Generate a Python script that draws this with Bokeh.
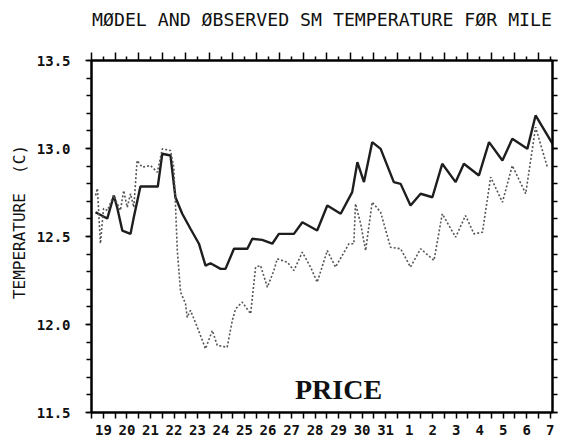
from bokeh.plotting import figure
from bokeh.models import LinearAxis, FixedTicker, Range1d, Label, NumeralTickFormatter
from bokeh.embed import file_html
from bokeh.resources import INLINE

# Day index 0 = Aug 19 ... 12 = Aug 31, 13 = Sep 1 ... 19 = Sep 7
day_labels = ["19", "20", "21", "22", "23", "24", "25", "26", "27", "28", "29",
              "30", "31", "1", "2", "3", "4", "5", "6", "7"]

# Model (solid) temperature, deg C
model_day = [-0.34, 0.16, 0.44, 0.58, 0.80, 1.15, 1.29, 1.57, 2.31, 2.50, 2.85,
             3.06, 3.35, 3.70, 4.06, 4.34, 4.55, 4.98, 5.19, 5.55, 6.12, 6.33,
             6.75, 7.18, 7.46, 8.10, 8.46, 9.09, 9.52, 10.09, 10.58, 10.80, 11.08,
             11.43, 11.79, 12.35, 12.64, 13.06, 13.49, 13.99, 14.41, 14.98, 15.33,
             15.97, 16.40, 16.97, 17.39, 18.03, 18.38, 19.02, 19.15]
model_temp = [12.638, 12.602, 12.733, 12.666, 12.534, 12.515, 12.610, 12.784, 12.784,
              12.970, 12.960, 12.723, 12.629, 12.544, 12.459, 12.335, 12.348, 12.316,
              12.316, 12.430, 12.430, 12.487, 12.481, 12.459, 12.515, 12.515, 12.581,
              12.534, 12.676, 12.629, 12.752, 12.922, 12.809, 13.036, 12.998, 12.809,
              12.799, 12.676, 12.743, 12.723, 12.913, 12.809, 12.913, 12.847, 13.036,
              12.932, 13.055, 12.998, 13.188, 13.045, 13.017]

# Observed (dotted) temperature, deg C
obs_day = [-0.34, -0.26, -0.13, 0.00, 0.17, 0.43, 0.72, 0.86, 1.01, 1.15, 1.29, 1.43,
           1.65, 2.00, 2.29, 2.50, 2.85, 2.99, 3.06, 3.14, 3.28, 3.49, 3.56, 3.70,
           3.99, 4.34, 4.63, 4.84, 5.26, 5.48, 5.62, 5.90, 6.26, 6.47, 6.68, 6.97,
           7.25, 7.39, 7.82, 8.10, 8.46, 8.81, 9.09, 9.52, 9.87, 10.44, 10.65, 10.72,
           10.94, 11.15, 11.43, 11.79, 12.21, 12.64, 13.06, 13.49, 14.06, 14.41,
           14.98, 15.40, 15.76, 16.12, 16.47, 16.97, 17.39, 17.96, 18.38, 18.88]
obs_temp = [12.733, 12.773, 12.460, 12.659, 12.648, 12.733, 12.648, 12.761, 12.666,
            12.743, 12.666, 12.932, 12.894, 12.903, 12.865, 12.998, 12.989, 12.894,
            12.688, 12.420, 12.184, 12.118, 12.041, 12.080, 11.985, 11.862, 11.966,
            11.881, 11.871, 12.023, 12.089, 12.127, 12.061, 12.326, 12.335, 12.212,
            12.307, 12.373, 12.354, 12.307, 12.411, 12.326, 12.240, 12.420, 12.326,
            12.459, 12.459, 12.686, 12.572, 12.420, 12.695, 12.638, 12.439, 12.430,
            12.326, 12.430, 12.364, 12.629, 12.496, 12.619, 12.515, 12.524, 12.837,
            12.695, 12.903, 12.743, 13.121, 12.894]

y_major = [11.5, 12.0, 12.5, 13.0, 13.5]
y_minor = [round(11.5 + 0.1 * i, 1) for i in range(21)]
x_major = list(range(len(day_labels)))
x_half = [i + 0.5 for i in range(-1, len(day_labels))]

TITLE = "MØDEL AND ØBSERVED SM TEMPERATURE FØR MILE"
MONO = "DejaVu Sans Mono"

p = figure(width=558, height=448, output_backend="svg", toolbar_location=None,
           x_range=Range1d(-0.51, 19.1), y_range=Range1d(11.5, 13.5),
           x_axis_type=None, y_axis_type=None, title=None,
           min_border_left=91, min_border_right=6, min_border_top=60, min_border_bottom=36)

p.outline_line_color = "black"
p.outline_line_width = 2
p.background_fill_color = "white"
p.border_fill_color = "white"

def style_axis(ax):
    ax.axis_line_color = "black"
    ax.axis_line_width = 2
    ax.major_tick_line_color = "black"
    ax.minor_tick_line_color = "black"
    ax.major_tick_line_width = 1.5
    ax.minor_tick_line_width = 1.5
    ax.major_tick_in = 0
    ax.minor_tick_in = 0
    ax.major_label_text_font = MONO
    ax.major_label_text_font_style = "bold"
    ax.major_label_text_font_size = "14px"
    ax.major_label_text_color = "#111"

# bottom axis
xb = LinearAxis(ticker=FixedTicker(ticks=x_major, minor_ticks=x_half),
                major_label_overrides={i: lab for i, lab in enumerate(day_labels)})
style_axis(xb)
xb.major_tick_out = 6
xb.minor_tick_out = 6
xb.major_label_standoff = 6
p.add_layout(xb, "below")

# top axis, carrying the chart title as its label
xt = LinearAxis(ticker=FixedTicker(ticks=x_half, minor_ticks=x_major))
style_axis(xt)
xt.major_tick_out = 8
xt.minor_tick_out = 4
xt.major_label_text_color = None
xt.major_label_text_font_size = "1px"
xt.axis_label = TITLE
xt.axis_label_text_font = MONO
xt.axis_label_text_font_size = "18.2px"
xt.axis_label_text_font_style = "normal"
xt.axis_label_text_color = "#111"
xt.axis_label_standoff = 23
p.add_layout(xt, "above")

# left axis
yl = LinearAxis(ticker=FixedTicker(ticks=y_major, minor_ticks=y_minor),
                formatter=NumeralTickFormatter(format="0.0"))
style_axis(yl)
yl.major_tick_out = 6
yl.minor_tick_out = 5
yl.major_label_standoff = 15
yl.axis_label = "\u00a0\u00a0\u00a0TEMPERATURE\u00a0\u00a0(C)"
yl.axis_label_text_font = MONO
yl.axis_label_text_font_size = "16px"
yl.axis_label_text_font_style = "normal"
yl.axis_label_text_color = "#111"
yl.axis_label_standoff = 5
p.add_layout(yl, "left")

# right axis
yr = LinearAxis(ticker=FixedTicker(ticks=y_major, minor_ticks=y_minor))
style_axis(yr)
yr.major_tick_out = 5
yr.minor_tick_out = 5
yr.major_label_text_color = None
yr.major_label_text_font_size = "1px"
p.add_layout(yr, "right")

p.line(model_day, model_temp, line_color="#1e1e1e", line_width=2.4)
p.line(obs_day, obs_temp, line_color="#555555", line_width=1.6, line_dash="2 2")

p.add_layout(Label(x=10.0, y=11.63, text="PRICE", text_font="Liberation Serif",
                   text_font_style="bold", text_font_size="28px",
                   text_align="center", text_baseline="alphabetic", text_color="#111"))

open("out.html", "w").write(file_html(p, INLINE))
